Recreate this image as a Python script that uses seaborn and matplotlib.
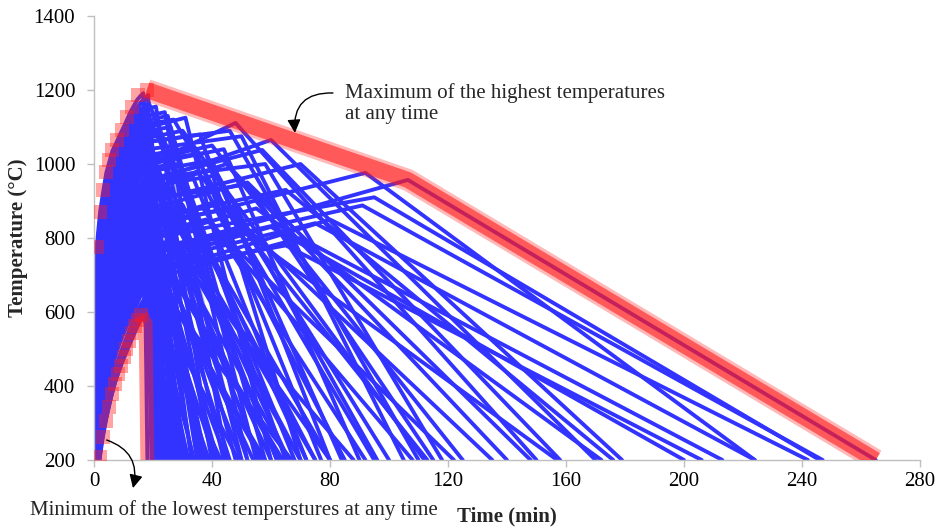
import numpy as np
import pandas as pd
import matplotlib
matplotlib.use("Agg")
import matplotlib.pyplot as plt
import seaborn as sns

# ---------------- data ----------------
# heating phase: upper and lower bound of the fire-curve family, whole minutes
heat_grid = [0, 1, 2, 3, 4, 5, 6, 7, 8, 9, 10, 11, 12, 13, 14, 15, 16]
heat_hi = [20, 785, 871, 925, 975, 1005, 1035, 1052, 1070, 1088, 1105, 1124,
           1142, 1157, 1172, 1182, 1190]
heat_lo = [20, 120, 208, 262, 305, 342, 378, 406, 432, 455, 478, 500,
           522, 543, 563, 578, 592]

# curves that decay directly after the heating phase
a_knee_t = [16.7, 18.4, 17.0, 17.6, 16.2, 18.0, 17.3, 16.5, 18.8, 17.9, 16.9, 18.3,
            17.1, 19.2, 16.4, 17.7, 18.6, 16.8, 19.5, 17.4, 18.1, 16.0, 19.0, 17.5,
            18.7, 16.6, 17.9, 19.3, 16.3, 18.2, 17.0, 19.6, 16.9, 18.5, 17.2, 19.1,
            16.1, 18.0, 17.6, 16.7, 19.4, 17.3, 18.9, 17.8, 17.8, 18.3, 17.5, 19.0,
            18.6, 17.2, 19.8, 18.4, 17.1, 18.9, 18.2, 17.7, 18.5, 17.9, 18.8, 17.4]
a_knee_T = [1191, 1186, 1175, 1160, 1150, 1140, 1125, 1110, 1100, 1090, 1075, 1060,
            1050, 1040, 1030, 1015, 1000, 990, 975, 960, 950, 935, 920, 905,
            890, 875, 860, 845, 830, 815, 800, 785, 770, 755, 740, 725,
            710, 695, 680, 665, 650, 635, 620, 612, 1180, 1130, 1070, 1010,
            970, 940, 880, 820, 760, 700, 1020, 880, 760, 690, 1120, 640]
a_end_t = [19.5, 21.0, 24.0, 27.0, 22.0, 30.0, 33.0, 26.0, 36.0, 40.0, 29.0, 44.0,
           23.0, 48.0, 31.0, 52.0, 35.0, 25.0, 56.0, 38.0, 28.0, 42.0, 60.0, 33.5,
           46.0, 21.0, 50.0, 37.0, 27.0, 54.0, 41.0, 64.0, 24.0, 45.0, 32.0, 58.0,
           26.0, 39.0, 49.0, 22.0, 34.0, 29.0, 43.0, 20.5, 68.0, 72.0, 62.0, 66.0,
           75.0, 70.0, 80.0, 63.0, 57.0, 67.0, 20.0, 23.0, 25.5, 27.5, 28.5, 24.5]

# curves with a slowly rising plateau before the decay
b_knee_t = [19.0, 19.5, 20.0, 19.0, 18.5, 19.5, 18.0, 20.0, 19.0,
            19.0, 18.5, 19.5, 18.0, 19.0, 18.5, 19.0, 18.0, 19.5, 18.5, 19.0, 18.0, 19.5, 18.0,
            18.5, 19.0, 19.5, 18.0, 19.0, 18.0, 19.0, 19.0, 18.5, 19.0, 19.0, 18.0, 19.0,
            18.0, 18.5, 19.0, 18.0, 19.5, 18.0, 19.0,
            18.5, 19.0, 18.0, 19.5, 18.5, 19.0, 18.0, 19.0, 18.5, 19.0]
b_knee_T = [762, 830, 760, 700, 730, 690, 710, 740, 800,
            1000, 950, 960, 930, 880, 1010, 930, 840, 800, 850, 810, 1070, 900, 770,
            1100, 1060, 1020, 1130, 980, 950, 920, 1000, 900, 870, 840, 800, 780,
            1080, 1040, 960, 1150, 1110, 720, 760,
            1090, 1025, 990, 940, 860, 1120, 1060, 905, 825, 1010]
b_peak_t = [106.4, 92, 91, 80, 75, 70, 65, 60, 95,
            48, 60, 57, 45, 52, 40, 35, 42, 55, 65, 38, 30, 70, 50,
            31, 36, 28, 24, 40, 33, 26, 44, 38, 30, 47, 35, 25,
            22, 50, 58, 21, 27, 30, 45,
            26, 34, 29, 42, 37, 25, 46, 52, 28, 38]
b_peak_T = [957, 976, 888, 850, 840, 800, 780, 830, 910,
            1111, 1065, 1038, 1000, 950, 1050, 980, 900, 880, 930, 850, 1090, 1000, 820,
            1125, 1080, 1040, 1140, 1010, 975, 935, 1040, 930, 890, 880, 820, 790,
            1085, 1075, 1000, 1155, 1120, 735, 790,
            1100, 1045, 1000, 970, 880, 1130, 1090, 945, 835, 1030]
b_end_t = [265, 224, 247, 242, 224, 213, 206, 200, 246,
           150, 170, 158, 140, 148, 125, 113, 135, 172, 176, 122, 112, 179, 157,
           60, 70, 55, 45, 80, 72, 62, 90, 85, 75, 100, 80, 66,
           50, 105, 118, 40, 95, 88, 108,
           58, 77, 65, 96, 92, 52, 110, 115, 70, 84]

# lighter series
light_t = [17.5, 21.0, 50.0]
light_T = [1120, 1140, 200]

# lowest curve after its heating phase
min_desc_t = [17.5, 18.1]
min_desc_T = [570, 200]

# envelopes
env_max_t = [0.9, 2.0, 3.2, 4.0, 5.1, 6.0, 7.7, 9.4, 11.1, 12.8, 15.0, 17.9]
env_max_T = [776, 871, 930, 979, 1011, 1038, 1065, 1092, 1128, 1155, 1186, 1200]
env_max_line_t = [17.9, 106.4, 265]
env_max_line_T = [1200, 957, 200]
env_min_t = heat_grid[2:]
env_min_T = heat_lo[2:]
env_min_line_t = [16.0, 17.5, 18.1]
env_min_line_T = [592, 570, 200]

x_ticks = [0, 40, 80, 120, 160, 200, 240, 280]
y_ticks = [200, 400, 600, 800, 1000, 1200, 1400]

# ---------------- build curves ----------------
def heating(kt, kT):
    w = (kT - heat_lo[-1]) / (heat_hi[-1] - heat_lo[-1])
    ts = [g * kt / heat_grid[-1] for g in heat_grid]
    Ts = [lo + w * (hi - lo) for lo, hi in zip(heat_lo, heat_hi)]
    return ts, Ts

rows_a, rows_b = [], []
cid = 0
for kt, kT, et in zip(a_knee_t, a_knee_T, a_end_t):
    ts, Ts = heating(kt, kT)
    ts += [et]; Ts += [200]
    for i, (t, T) in enumerate(zip(ts, Ts)):
        rows_a.append((cid, i, t, T))
    cid += 1
# lowest curve
ts = list(heat_grid) + min_desc_t
Ts = list(heat_lo) + min_desc_T
for i, (t, T) in enumerate(zip(ts, Ts)):
    rows_a.append((cid, i, t, T))
cid += 1
for kt, kT, pt, pT, et in zip(b_knee_t, b_knee_T, b_peak_t, b_peak_T, b_end_t):
    ts, Ts = heating(kt, kT)
    ts += [pt, et]; Ts += [pT, 200]
    for i, (t, T) in enumerate(zip(ts, Ts)):
        rows_b.append((cid, i, t, T))
    cid += 1

df_a = pd.DataFrame(rows_a, columns=["curve", "order", "t", "T"])
df_b = pd.DataFrame(rows_b, columns=["curve", "order", "t", "T"])
lt, lT = heating(light_t[0], light_T[0])
df_light = pd.DataFrame({"t": lt + light_t[1:], "T": lT + light_T[1:]})

# ---------------- plot ----------------
sns.set_theme(style="white")
plt.rcParams["font.family"] = ["Liberation Serif", "DejaVu Serif"]
plt.rcParams["font.size"] = 15

fig = plt.figure(figsize=(9.43, 5.27), dpi=100)
ax = fig.add_axes([94 / 943, 67 / 527, 826 / 943, 444 / 527])

blue = "#3333ff"
lw_blue = 2.8
sns.lineplot(data=df_light, x="t", y="T", sort=False, color="#a9a9ee",
             lw=lw_blue, ax=ax, legend=False, zorder=2)
sns.lineplot(data=df_a, x="t", y="T", units="curve", estimator=None, sort=False,
             color=blue, lw=lw_blue, ax=ax, legend=False, zorder=2,
             solid_joinstyle="round")
sns.lineplot(data=df_b, x="t", y="T", units="curve", estimator=None, sort=False,
             color=blue, lw=lw_blue, ax=ax, legend=False, zorder=2,
             solid_joinstyle="round")

pink = "#ff1a1a"
# max envelope
sns.lineplot(x=env_max_line_t, y=env_max_line_T, color=pink, lw=22 * 0.72,
             alpha=0.3, ax=ax, zorder=4, solid_capstyle="butt")
sns.lineplot(x=env_max_line_t, y=env_max_line_T, color=pink, lw=16 * 0.72,
             alpha=0.6, ax=ax, zorder=4, solid_capstyle="butt")
sns.scatterplot(x=env_max_t, y=env_max_T, marker="s", s=10.5 ** 2, color=pink,
                alpha=0.4, linewidth=0, ax=ax, zorder=5)
# min envelope
sns.scatterplot(x=env_min_t, y=env_min_T, marker="s", s=10.5 ** 2, color=pink,
                alpha=0.4, linewidth=0, ax=ax, zorder=5)
sns.lineplot(x=env_min_line_t, y=env_min_line_T, color=pink, lw=14 * 0.72,
             alpha=0.45, ax=ax, zorder=5, solid_capstyle="butt")

ax.set_xlim(0, 280)
ax.set_ylim(200, 1400)
ax.set_xticks(x_ticks)
ax.set_yticks(y_ticks)
for s in ["top", "right"]:
    ax.spines[s].set_visible(False)
for s in ["left", "bottom"]:
    ax.spines[s].set_color("#bfbfbf")
    ax.spines[s].set_linewidth(1.0)
ax.tick_params(axis="both", bottom=True, left=True, colors="#bfbfbf",
               labelcolor="black", length=5, width=1, direction="out",
               labelsize=15)
ax.tick_params(axis="y", pad=8.5)
ax.tick_params(axis="x", pad=4)

ax.set_xlabel("Time (min)", fontsize=15, fontweight="bold")
ax.xaxis.set_label_coords(0.5, -0.1374)
ax.xaxis.label.set_va("baseline")
ax.set_ylabel("Temperature (°C)", fontsize=15, fontweight="bold")
ax.yaxis.set_label_coords(-0.092, 0.5)
ax.yaxis.label.set_va("center")

ax.text(85.1, 1220, "Maximum of the highest temperatures\nat any time",
        fontsize=15, va="top", ha="left")
ax.annotate("", xy=(68.1, 1084), xytext=(81.0, 1192),
            arrowprops=dict(arrowstyle="-|>", connectionstyle="arc3,rad=0.55",
                            color="black", lw=1, mutation_scale=20,
                            shrinkA=0, shrinkB=0), zorder=6)
fig.text(30 / 943, 12 / 527, "Minimum of the lowest temperstures at any time",
         fontsize=15, va="baseline", ha="left")
ax.annotate("", xy=(13.2, 124), xytext=(4.3, 254), annotation_clip=False,
            arrowprops=dict(arrowstyle="-|>", connectionstyle="arc3,rad=-0.45",
                            color="black", lw=1, mutation_scale=20,
                            shrinkA=0, shrinkB=0), zorder=6)

fig.savefig("out.png", dpi=100)
